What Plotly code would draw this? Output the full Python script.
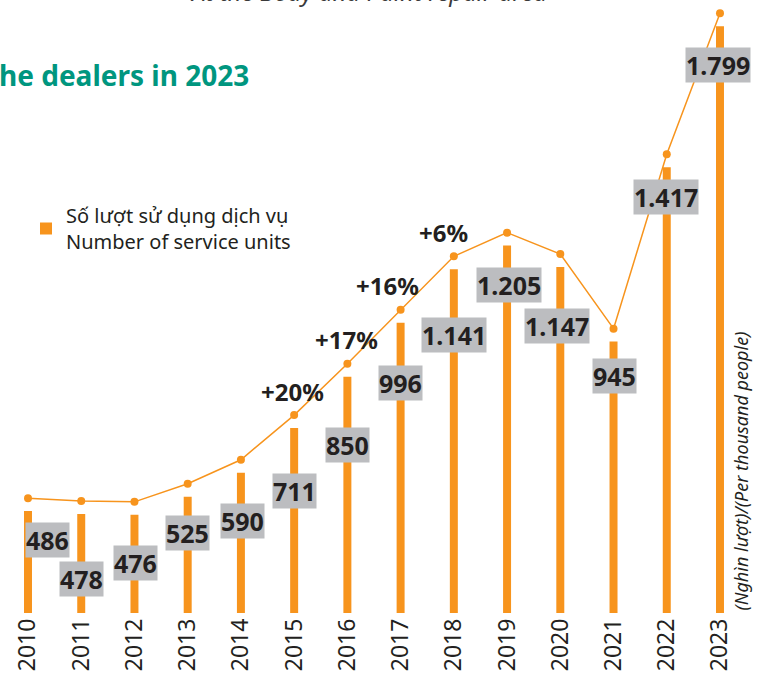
import plotly.graph_objects as go

# data
years = ["2010", "2011", "2012", "2013", "2014", "2015", "2016",
         "2017", "2018", "2019", "2020", "2021", "2022", "2023"]
units = [486, 478, 476, 525, 590, 711, 850, 996, 1141, 1205, 1147, 945, 1417, 1799]
growth = ["", "", "", "", "", "+20%", "+17%", "+16%", "+6%", "", "", "", "", ""]

legend_name = "Số lượt sử dụng dịch vụ<br>Number of service units"
unit_note = "(Nghìn lượt)/(Per thousand people)"
title_text = "he dealers in 2023"
subtitle_text = "At the Body and Paint repair area"

ORANGE = "#f7941d"
GREY = "#bcbdc0"
DARK = "#231f20"
GREEN = "#00967f"
FONT = "Noto Sans"

# label placement (pixels below bar top / sideways nudges)
label_drop = [29, 65, 48, 36, 48, 63, 68, 60, 66, 39, 59, 34, 30, 39]
label_dx = [19, 0, 1, 0, 2, 0, 0, 0, 0, 2, -3, 1, -1, -2]
pct_dx = [0, 0, 0, 0, 0, -2, -1, -13, -10, 0, 0, 0, 0, 0]

step = 53.23  # px per year slot
x_lo = -28 / step
x_hi = x_lo + 760 / step
y_lo, y_hi = 210, 1870
lift = 35  # the line sits a little above the bar tops

fig = go.Figure()
fig.add_trace(go.Bar(
    x=years, y=units, name=legend_name,
    marker=dict(color=ORANGE, line_width=0),
    width=0.15,
))
fig.add_trace(go.Scatter(
    x=years, y=units, yaxis="y2", mode="lines+markers",
    line=dict(color=ORANGE, width=1.5),
    marker=dict(color=ORANGE, size=8),
    showlegend=False, cliponaxis=False,
))

annotations = []
for i, v in enumerate(units):
    annotations.append(dict(
        x=i, y=v, xref="x", yref="y", text=f"{v:,}".replace(",", "."),
        showarrow=False, yshift=-label_drop[i], xshift=label_dx[i],
        bgcolor=GREY, borderpad=0,
        font=dict(family=FONT, size=25, color=DARK, weight="bold"),
    ))
    if growth[i]:
        annotations.append(dict(
            x=i, y=v, xref="x", yref="y2", text=growth[i],
            showarrow=False, yshift=24, xshift=pct_dx[i],
            font=dict(family=FONT, size=24, color=DARK, weight="bold"),
        ))

annotations += [
    dict(x=0, y=1 - 75 / 613, xref="paper", yref="paper", xanchor="left",
         yanchor="middle", xshift=-3, text=title_text, showarrow=False,
         font=dict(family=FONT, size=28, color=GREEN, weight="bold")),
    dict(x=368 / 760, y=1, xref="paper", yref="paper", yanchor="bottom",
         yshift=-10, text=f"<i>{subtitle_text}</i>", showarrow=False,
         font=dict(family=FONT, size=24, color="#3a3a3a")),
    dict(x=1, y=0, xref="paper", yref="paper", xanchor="center", yanchor="bottom",
         xshift=-20, text=f"<i>{unit_note}</i>", textangle=-90, showarrow=False,
         font=dict(family=FONT, size=18, color=DARK)),
]

fig.update_layout(
    width=760, height=674,
    margin=dict(l=0, r=0, t=0, b=61),
    paper_bgcolor="white", plot_bgcolor="white",
    xaxis=dict(type="category", range=[x_lo, x_hi], showgrid=False,
               showline=False, ticks="", tickangle=-90, automargin=False,
               tickfont=dict(family=FONT, size=23, color=DARK)),
    yaxis=dict(range=[y_lo, y_hi], visible=False, automargin=False),
    yaxis2=dict(range=[y_lo - lift, y_hi - lift], overlaying="y",
                visible=False),
    legend=dict(x=26 / 760, y=1 - 196 / 613, xanchor="left", yanchor="top",
                font=dict(family=FONT, size=20, color=DARK),
                bgcolor="rgba(0,0,0,0)"),
    annotations=annotations,
    showlegend=True,
)

# drop the browser's default 8px page margin so the chart sits at (0, 0)
fig.write_html("out.html", config={"displayModeBar": False},
               post_script="document.body.style.margin = '0';")
